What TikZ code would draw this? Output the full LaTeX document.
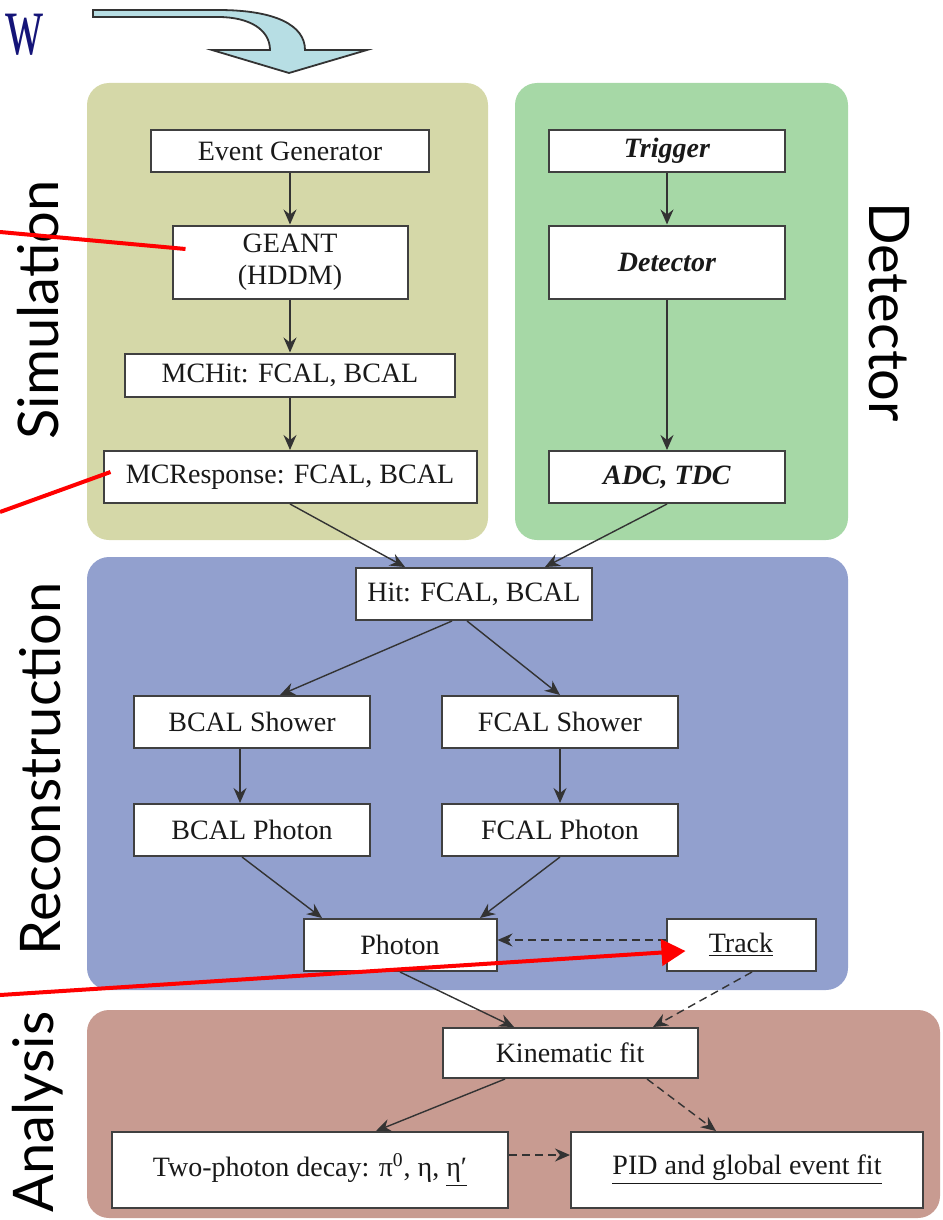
\documentclass[tikz,border=0pt]{standalone}
\usepackage{fontspec}
\setmainfont{Liberation Serif}
\newfontfamily\stagefont{Lato}
\usetikzlibrary{positioning,arrows.meta}
\definecolor{simcol}{RGB}{213,216,168}
\definecolor{detcol}{RGB}{166,216,166}
\definecolor{recocol}{RGB}{146,160,206}
\definecolor{anacol}{RGB}{200,155,145}
\definecolor{flowcol}{RGB}{183,222,228}
\definecolor{titlecol}{RGB}{20,20,120}

\begin{document}
\begin{tikzpicture}[x=0.5pt,y=-0.5pt,on grid,
  box/.style={draw=black!75,line width=1pt,fill=white,inner sep=0pt,text=black!90,font=\fontsize{14}{16}\selectfont},
  std/.style={box,minimum width=118pt,minimum height=26pt},
  stage/.style={font=\stagefont\fontsize{28}{32}\selectfont},
  link/.style={color=black!80,line width=0.7pt,-{Stealth[length=7.5pt,width=6.5pt,inset=2.5pt]}},
  later/.style={dash pattern=on 4pt off 2.5pt},
  pointer/.style={red,line width=2pt}]
\useasboundingbox (0,0) rectangle (942,1220);
\fill[simcol,rounded corners=11pt] (87,83) rectangle (488,540);
\fill[detcol,rounded corners=11pt] (515,83) rectangle (848,540);
\fill[recocol,rounded corners=11pt] (87,557) rectangle (848,990);
\fill[anacol,rounded corners=11pt] (87,1010) rectangle (940,1218);
\filldraw[fill=flowcol,draw=black!80,line width=0.9pt] (93,10) -- (218,10) .. controls (275,10) and (305,25) .. (305,50) -- (367,50) -- (289,73) -- (212,50) -- (270,50) .. controls (270,30) and (250,17) .. (218,17) -- (93,17) -- cycle;
\node[text=titlecol,font=\fontsize{44}{44}\selectfont,inner sep=0pt,anchor=base west] (title) at (5,55) {\scalebox{0.6}[1]{w}};

\node[box,minimum width=139pt,minimum height=21pt] (ev_gen) at (290,151) {Event Generator};
\node[box,minimum width=117.5pt,minimum height=36.5pt,align=center] (geant) [below=55.5pt of ev_gen] {GEANT\\(HDDM)};
\node[box,minimum width=165pt,minimum height=21.5pt] (mc_hit) [below=56.5pt of geant] {MCHit: FCAL, BCAL};
\node[box,minimum width=186.5pt,minimum height=26pt] (mc_resp) [below=51pt of mc_hit] {MCResponse: FCAL, BCAL};
\node[box,minimum width=118pt,minimum height=21pt] (trig) [right=188.5pt of ev_gen] {\textbf{\textit{Trigger}}};
\node[box,minimum width=118pt,minimum height=36.5pt] (det) [below=55.5pt of trig] {\textbf{\textit{Detector}}};
\node[std] (adc) [below=107.5pt of det] {\textbf{\textit{ADC, TDC}}};
\node[std] (hit) [below right=58.5pt and 92pt of mc_resp] {Hit: FCAL, BCAL};
\node[std] (b_shower) [below left=64pt and 111pt of hit] {BCAL Shower};
\node[std] (f_shower) [below right=64pt and 43pt of hit] {FCAL Shower};
\node[std] (b_photon) [below=54pt of b_shower] {BCAL Photon};
\node[std] (f_photon) [below=54pt of f_shower] {FCAL Photon};
\node[box,minimum width=96.5pt,minimum height=26pt] (photon) [below right=57.5pt and 74pt of b_photon] {Photon};
\node[box,minimum width=74.5pt,minimum height=26pt] (track) [right=170.5pt of photon] {\underline{Track}};
\node[box,minimum width=127.5pt,minimum height=25pt] (kin_fit) [below right=54pt and 85pt of photon] {Kinematic fit};
\node[box,minimum width=198pt,minimum height=38pt] (two_photon) [below left=58.5pt and 130pt of kin_fit] {Two-photon decay: π\textsuperscript{0}, η, \underline{η′}};
\node[box,minimum width=176pt,minimum height=38pt] (pid) [right=218.5pt of two_photon] {\underline{PID and global event fit}};

\node[stage,rotate=90] (sim_lbl) at (38,310) {Simulation};
\node[stage,rotate=90] (reco_lbl) at (40,769) {Reconstruction};
\node[stage,rotate=90] (ana_lbl) at (38,1112) {Analysis};
\node[stage,rotate=-90] (det_lbl) at (889,312) {Detector};

\path[link]
  (ev_gen) edge (geant)
  (geant) edge (mc_hit)
  (mc_hit) edge (mc_resp)
  (trig) edge (det)
  (det) edge (adc)
  (mc_resp.south) edge ([xshift=-34.5pt]hit.north)
  (adc.south) edge ([xshift=35.5pt]hit.north)
  ([xshift=-11pt]hit.south) edge ([xshift=14pt]b_shower.north)
  ([xshift=-3.5pt]hit.south) edge (f_shower.north)
  ([xshift=-6pt]b_shower.south) edge ([xshift=-6pt]b_photon.north)
  (f_shower) edge (f_photon)
  ([xshift=-5pt]b_photon.south) edge ([xshift=-39pt]photon.north)
  (f_photon.south) edge ([xshift=40pt]photon.north)
  (photon.south) edge ([xshift=-28pt]kin_fit.north)
  ([xshift=-32.5pt]kin_fit.south) edge ([xshift=33pt]two_photon.north)
  ([yshift=2.5pt]track.west) edge[later] ([yshift=2.5pt]photon.east)
  ([xshift=5.5pt]track.south) edge[later] ([xshift=41.5pt]kin_fit.north)
  ([xshift=38.5pt]kin_fit.south) edge[later] ([xshift=-15.5pt]pid.north)
  ([yshift=7.5pt]two_photon.east) edge[later] ([yshift=7.5pt]pid.west);

\coordinate (p_1) at (0,232);
\coordinate (p_2) at (0,512);
\coordinate (p_3) at (0,995);
\draw[pointer] (p_1) -- ([xshift=7pt,yshift=6.5pt]geant.west);
\draw[pointer] (p_2) -- ([xshift=4pt,yshift=2.5pt]mc_resp.west);
\draw[pointer,-{Triangle[length=12pt,width=13pt]}] (p_3) -- ([xshift=10pt,yshift=-3pt]track.west);
\end{tikzpicture}
\end{document}
